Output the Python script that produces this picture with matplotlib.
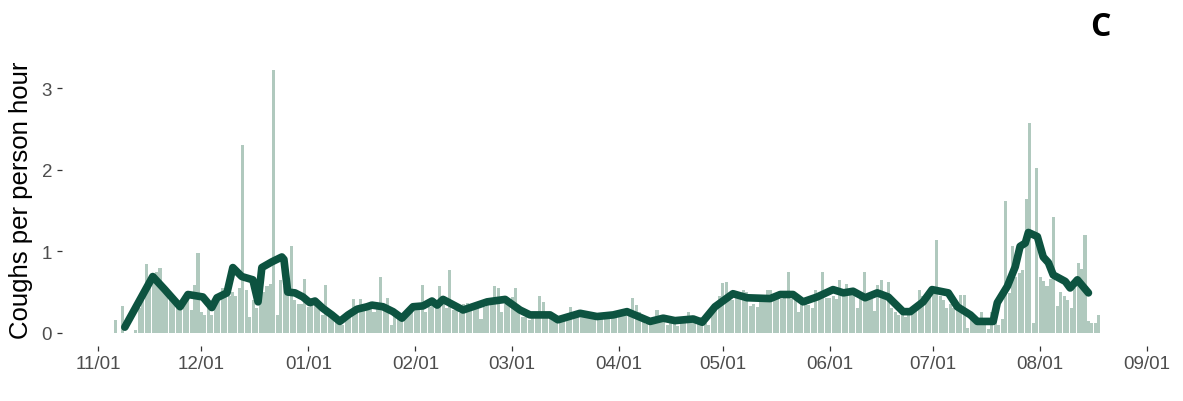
import pandas as pd
import matplotlib
matplotlib.use("Agg")
import matplotlib.pyplot as plt
import matplotlib.dates as mdates

plt.rcParams['font.family'] = ['Liberation Sans', 'DejaVu Sans']

# daily coughs per person hour, first bar on 2020-11-06
start = "2020-11-06"
nov = [0.16, 0, 0.33, 0, 0, 0, 0.03, 0.3, 0.45, 0.84, 0.55, 0.62, 0.75, 0.8, 0.55,
       0.5, 0.42, 0.36, 0.3, 0.3, 0.38, 0.45, 0.28, 0.59, 0.98]
dec = [0.25, 0.22, 0.3, 0.22, 0.35, 0.48, 0.55, 0.5, 0.45, 0.5, 0.45, 0.55, 2.3, 0.53,
       0.2, 0.4, 0.3, 0.45, 0.5, 0.58, 0.6, 3.22, 0.22, 0.65, 0.57, 0.62, 1.07, 0.4,
       0.35, 0.35, 0.66]
jan = [0.32, 0.43, 0.34, 0.34, 0.22, 0.59, 0.24, 0.2, 0.2, 0.16, 0.1, 0.2, 0.22, 0.41,
       0.3, 0.41, 0.35, 0.36, 0.36, 0.25, 0.3, 0.69, 0.3, 0.43, 0.1, 0.25, 0.2, 0.2,
       0.22, 0.26, 0.32]
feb = [0.35, 0.3, 0.59, 0.26, 0.32, 0.38, 0.3, 0.58, 0.4, 0.3, 0.77, 0.28, 0.3, 0.24,
       0.35, 0.37, 0.3, 0.3, 0.3, 0.17, 0.32, 0.35, 0.39, 0.58, 0.55, 0.25, 0.35, 0.38]
mar = [0.44, 0.55, 0.3, 0.2, 0.2, 0.16, 0.2, 0.18, 0.45, 0.38, 0.25, 0.2, 0.14, 0.15,
       0.18, 0.2, 0.22, 0.32, 0.2, 0.22, 0.2, 0.22, 0.2, 0.25, 0.22, 0.2, 0.18, 0.22,
       0.26, 0.22, 0.2]
apr = [0.2, 0.22, 0.25, 0.28, 0.43, 0.34, 0.25, 0.22, 0.11, 0.18, 0.2, 0.28, 0.18, 0.15,
       0.1, 0.15, 0.18, 0.08, 0.15, 0.18, 0.25, 0.2, 0.18, 0.15, 0.2, 0.12, 0.1, 0.25,
       0.35, 0.45]
may = [0.61, 0.62, 0.46, 0.4, 0.45, 0.5, 0.52, 0.5, 0.33, 0.35, 0.32, 0.46, 0.45, 0.52,
       0.52, 0.4, 0.45, 0.42, 0.48, 0.74, 0.42, 0.4, 0.26, 0.36, 0.36, 0.34, 0.3, 0.53,
       0.45, 0.75, 0.43]
jun = [0.43, 0.45, 0.42, 0.65, 0.5, 0.6, 0.5, 0.48, 0.3, 0.45, 0.75, 0.4, 0.42, 0.27,
       0.59, 0.65, 0.45, 0.62, 0.3, 0.25, 0.22, 0.25, 0.2, 0.3, 0.28, 0.3, 0.53, 0.45,
       0.41, 0.45]
jul = [0.48, 1.14, 0.45, 0.4, 0.3, 0.35, 0.31, 0.31, 0.47, 0.47, 0.06, 0.22, 0.22, 0.17,
       0.25, 0.15, 0.05, 0.25, 0.28, 0.1, 0.17, 1.61, 0.49, 1.06, 0.69, 0.73, 0.77, 1.64,
       2.57, 0.12, 2.02]
aug = [0.68, 0.64, 0.57, 0.66, 1.42, 0.33, 0.5, 0.45, 0.4, 0.31, 0.55, 0.85, 0.78, 1.2,
       0.15, 0.12, 0.12, 0.22]

# smoothed trend, days after 2020-11-01
trend_day = [7.8, 15.9, 19.4, 23.8, 26.1, 30.4, 33, 34.5, 37.4, 39.1, 41.7, 44.9, 46.4,
             47.5, 50.4, 53.3, 53.9, 55, 57.1, 59.4, 61.4, 62.9, 65.2, 67.8, 70.1, 72.5,
             75.1, 78, 79.4, 82.6, 85.5, 88.1, 91.3, 94.2, 96.8, 98.3, 100, 105.8, 112.8,
             118, 122.3, 125.2, 131, 133.3, 139.7, 144.6, 149.3, 153.3, 160, 163.8,
             167.2, 172.5, 175.1, 178.8, 184, 188.1, 194.8, 197.7, 201.4, 204.3, 208.4,
             213, 216, 218.8, 222.3, 225.8, 229, 233.3, 235.4, 239.1, 241.7, 246.4, 249,
             252.8, 254.8, 259.4, 260.6, 263.5, 265.8, 267.2, 268.7, 269.6, 272.2, 273.9,
             275.4, 276.8, 280.3, 281.7, 283.8, 287]
trend_val = [0.07, 0.69, 0.53, 0.32, 0.47, 0.44, 0.31, 0.43, 0.49, 0.8, 0.69, 0.65, 0.38,
             0.8, 0.87, 0.93, 0.9, 0.5, 0.49, 0.44, 0.37, 0.39, 0.3, 0.22, 0.14, 0.22,
             0.29, 0.32, 0.34, 0.32, 0.26, 0.18, 0.32, 0.33, 0.39, 0.34, 0.41, 0.28, 0.38,
             0.41, 0.28, 0.22, 0.22, 0.16, 0.24, 0.2, 0.22, 0.26, 0.14, 0.18, 0.15, 0.17,
             0.13, 0.32, 0.48, 0.43, 0.42, 0.47, 0.47, 0.38, 0.44, 0.53, 0.49, 0.51, 0.43,
             0.49, 0.44, 0.26, 0.26, 0.38, 0.53, 0.49, 0.32, 0.22, 0.14, 0.14, 0.37, 0.57,
             0.81, 1.06, 1.1, 1.23, 1.18, 0.93, 0.86, 0.71, 0.63, 0.55, 0.65, 0.49]

xbreaks = ["2020-11-01", "2020-12-01", "2021-01-01", "2021-02-01", "2021-03-01",
           "2021-04-01", "2021-05-01", "2021-06-01", "2021-07-01", "2021-08-01",
           "2021-09-01"]

vals = nov + dec + jan + feb + mar + apr + may + jun + jul + aug
days = pd.date_range(start, periods=len(vals), freq="D")
origin = pd.Timestamp("2020-11-01")
trend_x = origin + pd.to_timedelta(trend_day, unit="D")

W, H = 1183, 402
fig = plt.figure(figsize=(W / 100, H / 100), dpi=100)
# panel in pixels: left 62, right 1183, top 58, bottom 347
ax = fig.add_axes([62 / W, 1 - 347 / H, (1183 - 62) / W, (347 - 58) / H])

ax.bar(days, vals, width=0.88, color="#b0c9be", linewidth=0)
ax.plot(trend_x, trend_val, color="#0d5340", lw=5.5, solid_capstyle="round",
        solid_joinstyle="round")

pad = pd.Timedelta(days=10.4)
ax.set_xlim(pd.Timestamp(xbreaks[0]) - pad, pd.Timestamp(xbreaks[-1]) + pad)
ax.set_ylim(-0.161, 3.38)
ax.set_xticks(pd.to_datetime(xbreaks))
ax.xaxis.set_major_formatter(mdates.DateFormatter("%m/%d"))
ax.set_yticks([0, 1, 2, 3])

for s in ax.spines.values():
    s.set_visible(False)
ax.tick_params(axis="both", direction="out", length=3.6, width=0.9, color="#333333",
               labelcolor="#4d4d4d", labelsize=13.5)
ax.tick_params(axis="x", pad=3)
ax.tick_params(axis="y", pad=3.5)

fig.text(21 / W, 1 - 200 / H, "Coughs per person hour", rotation=90, fontsize=18.5,
         ha="center", va="center", color="black")
fig.text(1100 / W, 1 - 28 / H, "C", fontsize=23, fontweight="bold", ha="center",
         va="center", family=["Open Sans", "DejaVu Sans"])

fig.savefig("out.png", dpi=100)
